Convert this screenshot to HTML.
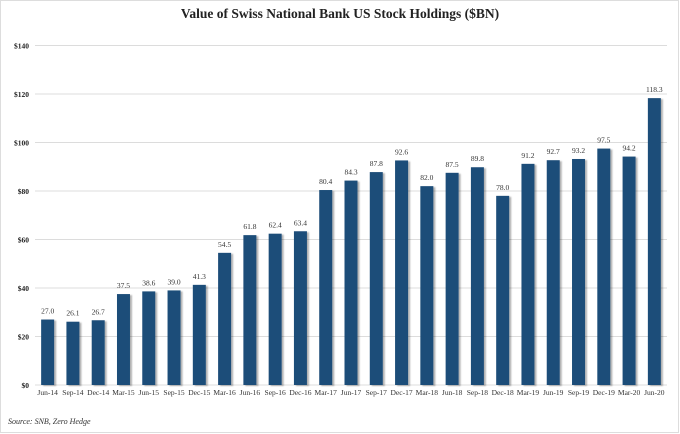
<!DOCTYPE html>
<html><head><meta charset="utf-8"><style>
html,body{margin:0;padding:0;background:#fff}
#wrap{position:relative;width:680px;height:434px;overflow:hidden;background:#fff}
svg text{font-family:"Liberation Serif",serif}
</style></head><body>
<div id="wrap">
<svg id="chart" width="680" height="434">
<defs><filter id="sh" x="-20%" y="-5%" width="160%" height="110%"><feDropShadow dx="2" dy="1" stdDeviation="0.8" flood-color="#000" flood-opacity="0.3"/></filter></defs>
<rect x="0.5" y="0.5" width="678" height="432" fill="#fff" stroke="#ddd"/>
<text x="340" y="18" text-anchor="middle" font-size="13.5" font-weight="bold" fill="#222">Value of Swiss National Bank US Stock Holdings ($BN)</text>
<text x="8" y="424" font-size="8" font-style="italic" fill="#333">Source: SNB, Zero Hedge</text>
</svg></div>
<script>
const categories=["Jun-14","Sep-14","Dec-14","Mar-15","Jun-15","Sep-15","Dec-15","Mar-16","Jun-16","Sep-16","Dec-16","Mar-17","Jun-17","Sep-17","Dec-17","Mar-18","Jun-18","Sep-18","Dec-18","Mar-19","Jun-19","Sep-19","Dec-19","Mar-20","Jun-20"];
const values=[27.0,26.1,26.7,37.5,38.6,39.0,41.3,54.5,61.8,62.4,63.4,80.4,84.3,87.8,92.6,82.0,87.5,89.8,78.0,91.2,92.7,93.2,97.5,94.2,118.3];
const yTicks=[0,20,40,60,80,100,120,140];
const ns="http://www.w3.org/2000/svg";
const svg=document.getElementById('chart');
const L=35,R=667,Y0=385,Y1=45.5,YMAX=140;
const y=v=>Y0-(v/YMAX)*(Y0-Y1);
const band=(R-L)/categories.length;
const x=i=>L+band*(i+0.5);
function mk(t,a){const e=document.createElementNS(ns,t);for(const k in a)e.setAttribute(k,a[k]);svg.appendChild(e);return e;}
yTicks.forEach(v=>{
 const g=mk('line',{x1:L,x2:R,y1:y(v),y2:y(v),stroke:'#dcdcdc','stroke-width':1});
 
 
 const t=mk('text',{x:29,y:y(v)+3,'text-anchor':'end','font-size':7.5,'font-weight':'bold',fill:'#222'});
 t.textContent='$'+v;
 
 
});
const bw=13;
values.forEach((v,i)=>{
 const b=mk('rect',{x:x(i)-bw/2,y:y(v),width:bw,height:Y0-y(v),fill:'#1f4e79',filter:'url(#sh)'});
 
 
 const t=mk('text',{x:x(i),y:y(v)-6,'text-anchor':'middle','font-size':7.5,fill:'#333'});
 t.textContent=v.toFixed(1);
 
 
 const c=mk('text',{x:x(i),y:Y0+10,'text-anchor':'middle','font-size':7.5,fill:'#333'});
 c.textContent=categories[i];
 
 
});
</script>
</body></html>
